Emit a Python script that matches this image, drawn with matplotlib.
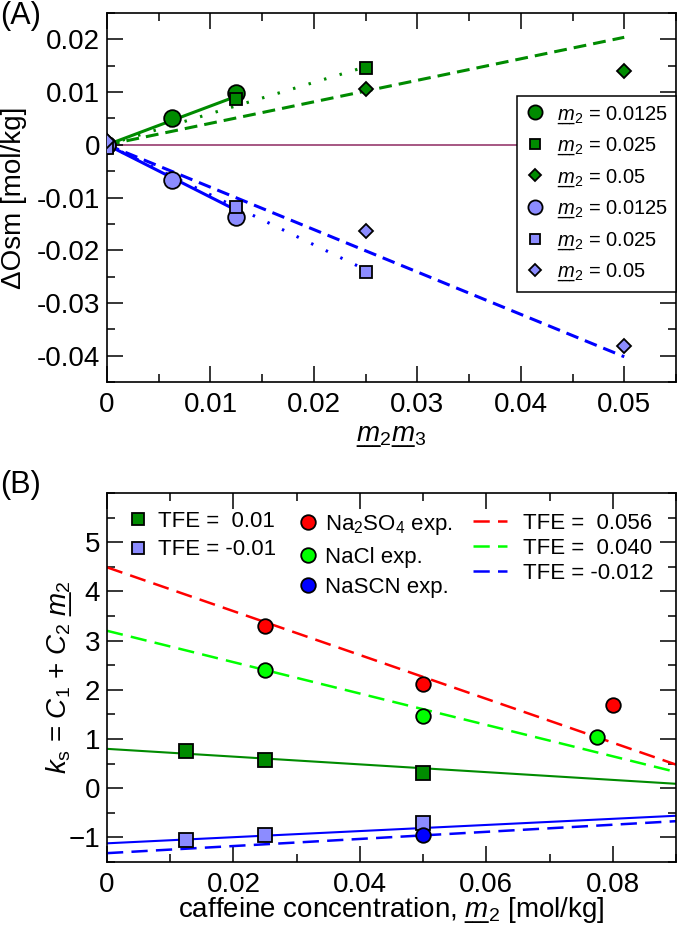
import matplotlib

matplotlib.use("Agg")
import matplotlib.pyplot as plt
from matplotlib.ticker import MultipleLocator

plt.rcParams.update(
    {
        "font.family": ["Liberation Sans", "DejaVu Sans"],
        "mathtext.fontset": "custom",
        "mathtext.rm": "Liberation Sans",
        "mathtext.it": "Liberation Sans:italic",
        "mathtext.bf": "Liberation Sans:bold",
        "axes.linewidth": 1.2,
        "font.size": 20,
    }
)

DARK_GREEN = "#008b00"
LIGHT_BLUE = "#8c8cff"
# underlined italic m: two underscores drawn first, then step back and set the m
M_UL = r"\_\hspace{-0.333}\_\hspace{-1}m"

# ---- panel A: osmolality change vs m2*m3 ----
a_circle_x = [0.0, 0.00625, 0.0125]
a_square_x = [0.0, 0.0125, 0.025]
a_diamond_x = [0.0, 0.025, 0.05]

a_green_circle_y = [0.0, 0.0051, 0.0098]
a_green_square_y = [-0.0005, 0.0086, 0.0146]
a_green_diamond_y = [0.0008, 0.0105, 0.0141]
a_blue_circle_y = [0.0, -0.0066, -0.0137]
a_blue_square_y = [-0.0006, -0.0118, -0.0241]
a_blue_diamond_y = [0.0008, -0.0163, -0.0382]

a_fit_solid_x = [0.0, 0.0125]
a_fit_dot_x = [0.0, 0.025]
a_fit_dash_x = [0.0, 0.05]
a_green_solid_y = [0.0, 0.0092]
a_green_dot_y = [0.0, 0.0148]
a_green_dash_y = [0.0, 0.0204]
a_blue_solid_y = [0.0, -0.0124]
a_blue_dot_y = [0.0, -0.0237]
a_blue_dash_y = [0.0, -0.0402]

a_labels = ["0.0125", "0.025", "0.05"]

# ---- panel B: salting-out constant vs caffeine concentration ----
b_tfe_x = [0.0125, 0.025, 0.05]
b_tfe_pos_y = [0.75, 0.58, 0.31]
b_tfe_neg_y = [-1.06, -0.95, -0.70]

b_na2so4_x = [0.025, 0.05, 0.08]
b_na2so4_y = [3.29, 2.12, 1.70]
b_nacl_x = [0.025, 0.05, 0.0775]
b_nacl_y = [2.41, 1.46, 1.05]
b_nascn_x = [0.05]
b_nascn_y = [-0.96]

b_fit_x = [0.0, 0.09]
b_fit_pos_y = [0.80, 0.09]
b_fit_neg_y = [-1.12, -0.56]
b_fit_056_y = [4.49, 0.48]
b_fit_040_y = [3.20, 0.33]
b_fit_m012_y = [-1.32, -0.67]


def style_axes(ax):
    ax.tick_params(which="both", direction="in", top=True, right=True, width=1.1, labelsize=20)
    ax.tick_params(which="major", length=11.5)
    ax.tick_params(which="minor", length=5.8)
    ax.tick_params(axis="x", which="major", pad=7)
    ax.tick_params(axis="y", which="major", pad=5)


fig = plt.figure(figsize=(6.78, 9.32), dpi=100)
ax_a = fig.add_axes([0.1578, 0.5901, 0.8392, 0.3959])
ax_b = fig.add_axes([0.1578, 0.0751, 0.8392, 0.3959])

# panel A
ax_a.axhline(0.0, color="#8e2a62", linewidth=1.1, zorder=1)
dash = (0, (4.2, 2.3))
dot = (0, (0.8, 4.5))
ax_a.plot(a_fit_solid_x, a_green_solid_y, color=DARK_GREEN, lw=2.2, zorder=2)
ax_a.plot(a_fit_dot_x, a_green_dot_y, color=DARK_GREEN, lw=2.2, ls=dot, zorder=2)
ax_a.plot(a_fit_dash_x, a_green_dash_y, color=DARK_GREEN, lw=2.2, ls=dash, zorder=2)
ax_a.plot(a_fit_solid_x, a_blue_solid_y, color="#0000ff", lw=2.2, zorder=2)
ax_a.plot(a_fit_dot_x, a_blue_dot_y, color="#0000ff", lw=2.2, ls=dot, zorder=2)
ax_a.plot(a_fit_dash_x, a_blue_dash_y, color="#0000ff", lw=2.2, ls=dash, zorder=2)

mk = dict(ls="none", mec="black", mew=1.3, zorder=3)
groups = [
    (DARK_GREEN, a_green_circle_y, a_green_square_y, a_green_diamond_y),
    (LIGHT_BLUE, a_blue_circle_y, a_blue_square_y, a_blue_diamond_y),
]
for color, yc, ys, yd in groups:
    ax_a.plot(a_circle_x, yc, marker="o", ms=12, mfc=color, label=f"${M_UL}_2$ = {a_labels[0]}", **mk)
    ax_a.plot(a_square_x, ys, marker="s", ms=8.8, mfc=color, label=f"${M_UL}_2$ = {a_labels[1]}", **mk)
    ax_a.plot(a_diamond_x, yd, marker="D", ms=7.4, mfc=color, label=f"${M_UL}_2$ = {a_labels[2]}", **mk)

ax_a.set_xlim(0, 0.055)
ax_a.set_ylim(-0.045, 0.025)
ax_a.xaxis.set_minor_locator(MultipleLocator(0.005))
ax_a.yaxis.set_minor_locator(MultipleLocator(0.005))
ax_a.set_xticks([0, 0.01, 0.02, 0.03, 0.04, 0.05])
ax_a.set_xticklabels(["0", "0.01", "0.02", "0.03", "0.04", "0.05"])
ax_a.set_yticks([-0.04, -0.03, -0.02, -0.01, 0, 0.01, 0.02])
ax_a.set_yticklabels(["-0.04", "-0.03", "-0.02", "-0.01", "0", "0.01", "0.02"])
style_axes(ax_a)
ax_a.set_xlabel(f"${M_UL}_2{M_UL}_3$", fontsize=20)
ax_a.xaxis.set_label_coords(0.5, -0.11)
ax_a.set_ylabel("ΔOsm [mol/kg]", fontsize=20)
ax_a.yaxis.set_label_coords(-0.141, 0.5)

leg_a = ax_a.legend(
    loc="upper right",
    bbox_to_anchor=(1.0, 0.775),
    fontsize=14.5,
    frameon=True,
    fancybox=False,
    edgecolor="black",
    framealpha=1.0,
    borderaxespad=0.0,
    borderpad=0.4,
    handlelength=1.0,
    handletextpad=0.6,
    labelspacing=0.5,
    markerscale=0.85,
)
leg_a.get_frame().set_linewidth(1.1)

# panel B
ax_b.plot(b_fit_x, b_fit_pos_y, color=DARK_GREEN, lw=1.5, zorder=2)
ax_b.plot(b_fit_x, b_fit_neg_y, color="#0000ff", lw=1.5, zorder=2)
bdash = (0, (6.5, 3.3))
l056, = ax_b.plot(b_fit_x, b_fit_056_y, color="#ff0000", lw=1.8, ls=bdash, zorder=2)
l040, = ax_b.plot(b_fit_x, b_fit_040_y, color="#00ff00", lw=1.8, ls=bdash, zorder=2)
lm012, = ax_b.plot(b_fit_x, b_fit_m012_y, color="#0000ff", lw=1.8, ls=bdash, zorder=2)

sq_pos, = ax_b.plot(b_tfe_x, b_tfe_pos_y, marker="s", ms=10, mfc=DARK_GREEN, **mk)
sq_neg, = ax_b.plot(b_tfe_x, b_tfe_neg_y, marker="s", ms=10, mfc=LIGHT_BLUE, **mk)
c_so4, = ax_b.plot(b_na2so4_x, b_na2so4_y, marker="o", ms=10.5, mfc="#ff0000", **mk)
c_cl, = ax_b.plot(b_nacl_x, b_nacl_y, marker="o", ms=10.5, mfc="#00ff00", **mk)
c_scn, = ax_b.plot(b_nascn_x, b_nascn_y, marker="o", ms=10.5, mfc="#0000ff", **mk)

ax_b.set_xlim(0, 0.09)
ax_b.set_ylim(-1.5, 6.0)
ax_b.set_xticks([0, 0.02, 0.04, 0.06, 0.08])
ax_b.set_xticklabels(["0", "0.02", "0.04", "0.06", "0.08"])
ax_b.xaxis.set_minor_locator(MultipleLocator(0.01))
ax_b.set_yticks([-1, 0, 1, 2, 3, 4, 5])
ax_b.yaxis.set_minor_locator(MultipleLocator(0.5))
style_axes(ax_b)
ax_b.set_xlabel(f"caffeine concentration, ${M_UL}_2$ [mol/kg]", fontsize=20)
ax_b.xaxis.set_label_coords(0.5, -0.09)
ax_b.set_ylabel(rf"$k_\mathrm{{s}}$ = $C_1$ + $C_2$ ${M_UL}_2$", fontsize=20)
ax_b.yaxis.set_label_coords(-0.058, 0.5)

leg_kw = dict(frameon=False, fontsize=16, borderaxespad=0.0, borderpad=0.0)
leg1 = ax_b.legend(
    [sq_pos, sq_neg], ["TFE =  0.01", "TFE = -0.01"],
    loc="upper left", bbox_to_anchor=(0.035, 0.951), handlelength=1.0, labelspacing=0.33,
    handletextpad=0.4, markerscale=0.9, **leg_kw,
)
ax_b.add_artist(leg1)
leg2 = ax_b.legend(
    [c_so4, c_cl, c_scn], [r"Na$_2$SO$_4$ exp.", "NaCl exp.", "NaSCN exp."],
    loc="upper left", bbox_to_anchor=(0.333, 0.946), handlelength=1.0, labelspacing=0.43,
    handletextpad=0.3, **leg_kw,
)
ax_b.add_artist(leg2)
ax_b.legend(
    [l056, l040, lm012], ["TFE =  0.056", "TFE =  0.040", "TFE = -0.012"],
    loc="upper left", bbox_to_anchor=(0.643, 0.946), handlelength=1.55, labelspacing=0.18,
    handletextpad=0.7, **leg_kw,
)

fig.text(0.0, 1 - 16 / 932, "(A)", fontsize=22, ha="left", va="center")
fig.text(0.0, 1 - 485 / 932, "(B)", fontsize=22, ha="left", va="center")

fig.savefig("out.png", dpi=100)
